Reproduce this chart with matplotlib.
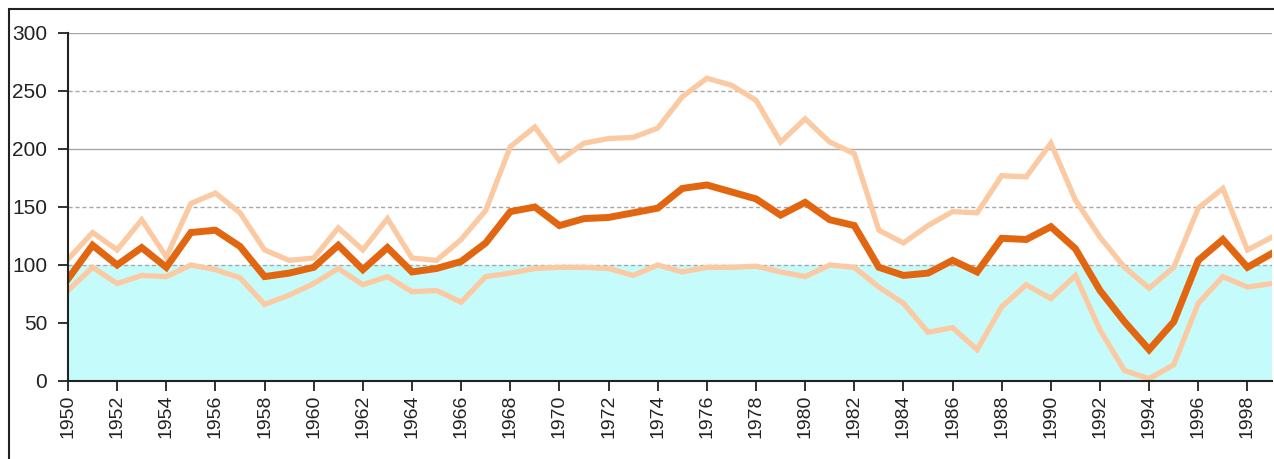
import matplotlib
matplotlib.use("Agg")
import matplotlib.pyplot as plt
from matplotlib.patches import Rectangle

plt.rcParams['font.family'] = ['Liberation Sans', 'DejaVu Sans']

years = list(range(1950, 2000))

main_values = [88, 117, 100, 115, 98, 128, 130, 116, 90, 93,
               98, 117, 96, 115, 94, 97, 103, 119, 146, 150,
               134, 140, 141, 145, 149, 166, 169, 163, 157, 143,
               154, 139, 134, 98, 91, 93, 104, 94, 123, 122,
               133, 114, 78, 51, 27, 51, 104, 122, 98, 110]

upper_values = [105, 128, 113, 139, 107, 153, 162, 145, 113, 104,
                106, 132, 113, 140, 106, 104, 122, 147, 202, 219,
                190, 205, 209, 210, 218, 245, 261, 255, 242, 206,
                226, 206, 196, 130, 119, 134, 146, 145, 177, 176,
                205, 156, 124, 98, 80, 98, 149, 166, 113, 124]

lower_values = [78, 98, 84, 91, 90, 100, 96, 89, 66, 74,
                84, 97, 83, 90, 77, 78, 68, 90, 93, 97,
                98, 98, 97, 91, 100, 94, 98, 98, 99, 94,
                90, 100, 98, 81, 67, 42, 46, 27, 64, 83,
                71, 91, 44, 9, 2, 14, 67, 90, 81, 84]

band_low = 0
band_high = 100

y_ticks = [0, 50, 100, 150, 200, 250, 300]
x_ticks = list(range(1950, 1999, 2))

fig = plt.figure(figsize=(12.74, 4.59), dpi=100)
W, H = 1274, 459
ax = fig.add_axes([68 / W, 1 - 381 / H, (1272 - 68) / W, (381 - 33) / H])

# frame around the chart
fig.patches.append(Rectangle((8.5 / W, -0.1), 1.2, 1 - 9.5 / H + 0.1,
                             transform=fig.transFigure, fill=False,
                             edgecolor='#222222', linewidth=1.5, zorder=0))

ax.set_xlim(1950, 1999)
ax.set_ylim(0, 300)

for v in y_ticks[1:]:
    ls = '-' if v in (200, 300) else (0, (3, 2))
    z = 2 if v == band_high else 0.5
    ax.axhline(v, color='#a8a8a8', linewidth=1.0, linestyle=ls, zorder=z)

ax.fill_between([1950, 1999], band_low, band_high, color='#c6fbfc',
                linewidth=0, zorder=1)

ax.plot(years, upper_values, color='#fbc9a2', linewidth=3.8, zorder=3,
        solid_joinstyle='miter')
ax.plot(years, lower_values, color='#fbc9a2', linewidth=3.8, zorder=3,
        solid_joinstyle='miter')
ax.plot(years, main_values, color='#e2650f', linewidth=5.0, zorder=4,
        solid_joinstyle='miter')

ax.set_yticks(y_ticks)
ax.set_xticks(x_ticks)
ax.set_xticklabels([str(x) for x in x_ticks], rotation=90)
ax.tick_params(axis='both', direction='out', length=7, width=1.3,
               color='#222222', labelcolor='#222222')
ax.tick_params(axis='x', labelsize=14, pad=3)
ax.tick_params(axis='y', labelsize=15, pad=8)

for s in ('top', 'right'):
    ax.spines[s].set_visible(False)
for s in ('left', 'bottom'):
    ax.spines[s].set_color('#222222')
    ax.spines[s].set_linewidth(1.5)
    ax.spines[s].set_zorder(5)

fig.savefig('out.png', dpi=100)
